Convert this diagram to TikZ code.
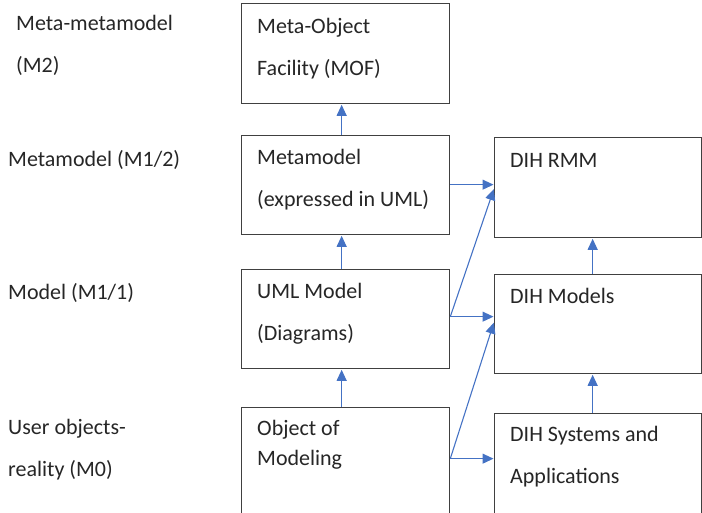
\documentclass[tikz,border=0pt]{standalone}
\usepackage{fontspec}
\setmainfont{Carlito}
\usetikzlibrary{arrows.meta}
\definecolor{arrowblue}{HTML}{4472C4}
\definecolor{boxline}{HTML}{404040}
\definecolor{txt}{HTML}{262626}
\tikzset{
  box/.style={draw=boxline, line width=1.3pt, fill=white, rectangle, inner sep=0pt, anchor=north west},
  lbl/.style={text=txt, inner sep=0pt, anchor=base west, align=left, font=\fontsize{22}{42}\selectfont},
  lbltight/.style={lbl, font=\fontsize{22}{30}\selectfont},
  arr/.style={draw=arrowblue, line width=1.1pt, -{Triangle[length=11pt,width=10pt]}, shorten >=0.5pt}
}
\begin{document}
\begin{tikzpicture}[x=1pt,y=-1pt]
\useasboundingbox (0,0) rectangle (702,512);
% boxes
\node[box, minimum width=208pt, minimum height=100pt] (mof) at (241,3) {};
\node[box, minimum width=208pt, minimum height=99pt] (meta) at (241,135) {};
\node[box, minimum width=208pt, minimum height=99pt] (uml) at (241,269) {};
\node[box, minimum width=208pt, minimum height=115pt] (obj) at (241,407) {};
\node[box, minimum width=207pt, minimum height=100pt] (rmm) at (494,137) {};
\node[box, minimum width=207pt, minimum height=99pt] (dihm) at (494,274) {};
\node[box, minimum width=207pt, minimum height=110pt] (dihs) at (494,413) {};
% left level labels (anchored at the baseline of the last line)
\node[lbl] (l2) at (16,72) {Meta-metamodel\\(M2)};
\node[lbl] (l12) at (8,166) {Metamodel (M1/2)};
\node[lbl] (l11) at (8,299) {Model (M1/1)};
\node[lbl] (l0) at (8,476) {User objects-\\reality (M0)};
% box texts
\node[lbl] (tmof) at (257,75) {Meta-Object\\Facility (MOF)};
\node[lbl] (tmeta) at (257,206) {Metamodel\\(expressed in UML)};
\node[lbl] (tuml) at (257,340) {UML Model\\(Diagrams)};
\node[lbltight] (tobj) at (257,465) {Object of\\Modeling};
\node[lbl] (trmm) at (510,167) {DIH RMM};
\node[lbl] (tdihm) at (510,303) {DIH Models};
\node[lbl] (tdihs) at (510,483) {DIH Systems and\\Applications};
% vertical arrows
\draw[arr] ([xshift=-4pt]meta.north) -- ([xshift=-4pt]mof.south);
\draw[arr] ([xshift=-4pt]uml.north) -- ([xshift=-4pt]meta.south);
\draw[arr] ([xshift=-4pt]obj.north) -- ([xshift=-4pt]uml.south);
\draw[arr] ([xshift=-5.5pt]dihm.north) -- ([xshift=-5.5pt]rmm.south);
\draw[arr] ([xshift=-5.5pt]dihs.north) -- ([xshift=-5.5pt]dihm.south);
% horizontal arrows
\coordinate (m0) at ([yshift=0.5pt]meta.east);
\coordinate (u0) at ([yshift=2.5pt]uml.east);
\coordinate (o0) at ([yshift=6.5pt]obj.east);
\draw[arr] (m0) -- (m0 -| rmm.west);
\draw[arr] (u0) -- (u0 -| dihm.west);
\draw[arr] (o0) -- (o0 -| dihs.west);
% diagonal arrows
\draw[arr] (u0) -- ([yshift=-1pt]rmm.west);
\draw[arr] (o0) -- ([yshift=2pt]dihm.west);
\end{tikzpicture}
\end{document}
